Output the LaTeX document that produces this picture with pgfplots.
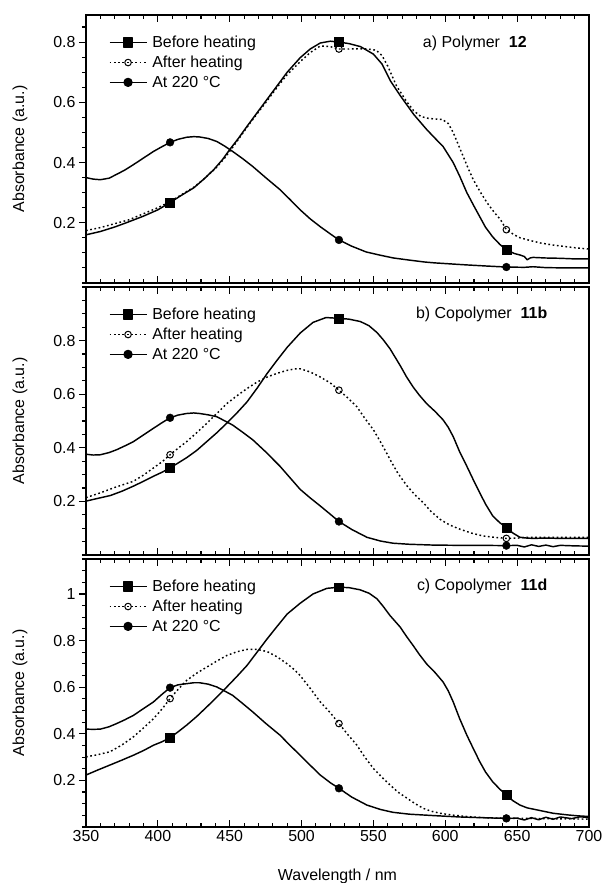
\documentclass[border=0pt]{standalone}
\usepackage{fontspec}
\setmainfont{Liberation Sans}
\usepackage{pgfplots}
\pgfplotsset{compat=1.18}
\pgfplotsset{
  panel/.style={
    scale only axis, width=503bp, height=268bp,
    xmin=350, xmax=700, ymin=0,
    xtick={350,400,...,700}, minor x tick num=4,
    ytick={0.2,0.4,0.6,0.8}, minor ytick={0,0.05,...,1.15},
    ytick pos=left, xtick pos=both,
    xtick align=inside, ytick align=outside,
    major tick length=7bp, minor tick length=4bp,
    axis line style={line width=1.4bp},
    every tick/.style={black, line width=1.1bp},
    tick label style={font=\fontsize{16}{19}\selectfont},
    label style={font=\fontsize{16}{19}\selectfont},
    /pgf/number format/assume math mode=true,
    ylabel={Absorbance (a.u.)},
    ylabel style={at={(axis description cs:-0.1312,0.5)}, anchor=center},
    legend style={draw=none, fill=none, at={(rel axis cs:0.045,0.93)}, anchor=north west,
      font=\fontsize{16}{19}\selectfont, row sep=3bp, inner sep=0pt, nodes={inner sep=2bp},
      /tikz/every odd column/.append style={column sep=3bp}},
    legend cell align=left,
    legend image code/.code={\draw[mark repeat=2,mark phase=2] plot coordinates {(0bp,0bp) (18.5bp,0bp) (37bp,0bp)};},
  },
  before/.style={black, line width=1.45bp, solid, line join=round},
  after/.style={black, line width=1.45bp, dash pattern=on 1.7bp off 2.6bp, line join=round},
  hot/.style={black, line width=1.45bp, solid, line join=round},
  bmark/.style={mark=square*, mark size=4.4bp, mark options={solid, fill=black, draw=black}},
  amark/.style={mark=o, mark size=3.3bp, mark options={solid, fill=white, draw=black, line width=1bp}},
  hmark/.style={mark=*, mark size=3.9bp, mark options={solid, fill=black, draw=black}},
}
\begin{document}
\begin{tikzpicture}
\useasboundingbox (-86bp,-56bp) rectangle (518bp,827bp);
% ---------------- panel a ----------------
\begin{axis}[panel, at={(0bp,544bp)}, anchor=south west, ymax=0.89, xticklabels=\empty]
\addlegendimage{before, bmark}\addlegendentry{Before heating}
\addlegendimage{after, amark}\addlegendentry{After heating}
\addlegendimage{hot, hmark}\addlegendentry{At 220 °C}
\addplot[before, forget plot] coordinates {(350,0.160) (360,0.171) (370,0.186) (378,0.200) (390,0.222) (400,0.243) (408.5,0.267) (416,0.290) (425,0.316) (432,0.345) (439,0.377) (445,0.41) (450,0.443) (456,0.48) (462,0.520) (469,0.565) (476,0.610) (483,0.655) (490,0.700) (499,0.748) (506,0.777) (513,0.797) (520,0.803) (526,0.800) (533,0.795) (541,0.785) (550,0.760) (556,0.727) (562,0.670) (569,0.620) (578,0.560) (587,0.510) (593,0.480) (598.5,0.453) (605.5,0.400) (610,0.355) (615,0.300) (620,0.255) (624,0.220) (628,0.185) (633,0.153) (638,0.128) (642.5,0.110) (648,0.098) (652,0.093) (655,0.088) (657,0.077) (659,0.083) (661,0.085) (670,0.083) (680,0.082) (690,0.080) (700,0.080)};
\addplot[after, forget plot] coordinates {(350,0.174) (360,0.184) (370,0.197) (380,0.210) (390,0.230) (400,0.250) (408.5,0.270) (416,0.292) (425,0.318) (432,0.345) (440,0.380) (446,0.412) (452,0.450) (458,0.490) (464,0.530) (470,0.568) (476,0.605) (483,0.650) (490,0.692) (499,0.735) (506,0.765) (513,0.787) (520,0.785) (526,0.777) (533,0.777) (540,0.778) (546,0.777) (552,0.773) (556,0.755) (560,0.720) (566,0.655) (573,0.603) (578,0.572) (583,0.553) (588,0.547) (592,0.545) (598,0.543) (602,0.530) (605.5,0.500) (609,0.460) (612.5,0.420) (616,0.380) (619.5,0.343) (624,0.305) (629,0.267) (634,0.235) (638.5,0.210) (642.5,0.177) (648,0.160) (652,0.150) (660,0.140) (666,0.133) (675,0.126) (685,0.120) (692,0.116) (700,0.113)};
\addplot[hot, forget plot] coordinates {(350,0.350) (355,0.345) (360,0.343) (366,0.348) (371,0.360) (377,0.375) (383,0.393) (390,0.415) (397,0.437) (403,0.453) (408.5,0.467) (414,0.477) (420,0.484) (425,0.486) (429,0.485) (435,0.480) (441,0.470) (446,0.456) (452,0.437) (459,0.413) (466,0.387) (475,0.350) (485,0.310) (492,0.277) (499,0.243) (506,0.213) (513,0.187) (520,0.163) (526,0.143) (535,0.122) (545,0.103) (555,0.092) (564,0.083) (575,0.076) (585,0.070) (592,0.067) (605,0.063) (615,0.060) (630,0.056) (642.5,0.053) (655,0.052) (661,0.054) (670,0.051) (685,0.050) (700,0.050)};
\addplot[only marks, bmark, forget plot] coordinates {(408.5,0.267) (526,0.800) (642.5,0.110)};
\addplot[only marks, amark, forget plot] coordinates {(408.5,0.268) (526,0.777) (642.5,0.177)};
\addplot[only marks, hmark, forget plot] coordinates {(408.5,0.467) (526,0.143) (642.5,0.053)};
\node[anchor=east, font=\fontsize{16}{19}\selectfont] at (rel axis cs:0.883,0.895) {a) Polymer\ \ \textbf{12}};
\end{axis}
% ---------------- panel b ----------------
\begin{axis}[panel, at={(0bp,272bp)}, anchor=south west, ymax=1.0, xticklabels=\empty]
\addlegendimage{before, bmark}\addlegendentry{Before heating}
\addlegendimage{after, amark}\addlegendentry{After heating}
\addlegendimage{hot, hmark}\addlegendentry{At 220 °C}
\addplot[before, forget plot] coordinates {(350,0.201) (358,0.211) (367,0.222) (375,0.238) (383,0.257) (390,0.275) (397,0.294) (403,0.309) (408.5,0.325) (414,0.343) (420,0.363) (427,0.390) (434,0.423) (441,0.456) (448,0.492) (455,0.530) (462,0.571) (469,0.622) (476,0.677) (483,0.727) (490,0.775) (499,0.828) (508,0.868) (517,0.886) (526,0.883) (533,0.880) (541,0.871) (547,0.855) (552.5,0.830) (557,0.802) (561.6,0.769) (568.6,0.707) (573,0.665) (577.6,0.627) (582,0.596) (587,0.565) (593,0.535) (598.5,0.504) (602,0.477) (605.5,0.442) (610,0.385) (615,0.331) (620,0.275) (624,0.232) (628,0.190) (633,0.146) (638,0.120) (642.5,0.103) (647,0.082) (652,0.066) (657,0.063) (661,0.062) (670,0.063) (680,0.062) (690,0.062) (700,0.062)};
\addplot[after, forget plot] coordinates {(350,0.214) (360,0.232) (370,0.252) (383,0.275) (390,0.298) (397,0.325) (403,0.348) (408.5,0.374) (414,0.398) (420,0.423) (427,0.456) (434,0.491) (441,0.528) (448,0.565) (455,0.594) (462,0.621) (469,0.645) (476,0.664) (483,0.678) (490,0.689) (495,0.694) (499,0.695) (506,0.683) (513,0.664) (520,0.642) (526,0.615) (532,0.587) (538.5,0.553) (544,0.510) (550,0.467) (556,0.412) (561.6,0.356) (567,0.305) (573.5,0.257) (579,0.224) (584.7,0.195) (590,0.163) (596.4,0.133) (603,0.112) (610.3,0.096) (618,0.082) (626.3,0.071) (634,0.066) (642.5,0.062) (650,0.063) (657,0.066) (670,0.066) (685,0.066) (700,0.066)};
\addplot[hot, forget plot] coordinates {(350,0.376) (355,0.373) (360,0.374) (366,0.382) (371.4,0.393) (377,0.407) (383,0.423) (390,0.448) (397,0.473) (403,0.494) (408.5,0.512) (414,0.522) (420,0.528) (425,0.530) (429,0.528) (435,0.523) (441,0.516) (446,0.502) (452,0.485) (459,0.458) (466,0.430) (475,0.385) (485,0.331) (492,0.288) (499,0.245) (506,0.213) (513,0.183) (520,0.152) (526,0.125) (535,0.095) (545.5,0.066) (555,0.052) (563.6,0.044) (575,0.040) (591.7,0.037) (610,0.036) (625,0.036) (642.5,0.035) (650,0.036) (655,0.030) (660,0.038) (665,0.032) (670,0.037) (675,0.031) (680,0.036) (690,0.034) (700,0.033)};
\addplot[only marks, amark, forget plot] coordinates {(408.5,0.374) (526,0.615) (642.5,0.062)};
\addplot[only marks, bmark, forget plot] coordinates {(408.5,0.325) (526,0.883) (642.5,0.103)};
\addplot[only marks, hmark, forget plot] coordinates {(408.5,0.512) (526,0.125) (642.5,0.035)};
\node[anchor=east, font=\fontsize{16}{19}\selectfont] at (rel axis cs:0.924,0.896) {b) Copolymer\ \ \textbf{11b}};
\end{axis}
% ---------------- panel c ----------------
\begin{axis}[panel, at={(0bp,0bp)}, anchor=south west, ymax=1.15,
  ytick={0.2,0.4,0.6,0.8,1}, xlabel={Wavelength / nm},
  xlabel style={at={(axis description cs:0.5,0)}, yshift=-49bp, anchor=center}]
\addlegendimage{before, bmark}\addlegendentry{Before heating}
\addlegendimage{after, amark}\addlegendentry{After heating}
\addlegendimage{hot, hmark}\addlegendentry{At 220 °C}
\addplot[before, forget plot] coordinates {(350,0.223) (358,0.244) (366.7,0.266) (375,0.287) (383,0.308) (390,0.328) (397,0.351) (403,0.366) (408.5,0.383) (414,0.408) (420,0.437) (427,0.474) (434,0.515) (441,0.557) (448,0.601) (455,0.646) (462,0.693) (469,0.750) (476,0.807) (483,0.861) (490,0.914) (499,0.960) (508,1.000) (517.6,1.024) (526,1.029) (533,1.027) (540.6,1.018) (547,1.003) (552.5,0.979) (557,0.945) (561.6,0.907) (568.6,0.858) (573,0.818) (577.6,0.779) (582,0.740) (587,0.700) (593,0.662) (598.5,0.622) (602,0.585) (605.5,0.537) (610,0.465) (615,0.394) (620,0.330) (624,0.280) (628,0.236) (633,0.194) (638,0.162) (642.5,0.137) (647,0.113) (652,0.094) (657,0.082) (661,0.077) (668,0.068) (675,0.059) (685,0.052) (692,0.048) (700,0.045)};
\addplot[after, forget plot] coordinates {(350,0.301) (358,0.310) (366.7,0.323) (375,0.352) (383,0.387) (390,0.425) (397,0.465) (403,0.507) (408.5,0.551) (414,0.590) (420,0.629) (427,0.660) (434,0.686) (441,0.712) (448,0.736) (455,0.752) (462,0.762) (469,0.762) (476,0.753) (483,0.730) (490,0.700) (495,0.675) (499,0.650) (506,0.595) (513,0.537) (520,0.490) (526,0.444) (532,0.398) (538.5,0.351) (544,0.300) (550,0.251) (556,0.213) (561.6,0.180) (567,0.150) (573.5,0.123) (579,0.100) (584.7,0.080) (590,0.068) (596.4,0.059) (605,0.051) (615,0.045) (628,0.040) (642.5,0.037) (661,0.037) (680,0.035) (700,0.034)};
\addplot[hot, forget plot] coordinates {(350,0.420) (355,0.419) (360,0.420) (366,0.430) (371.4,0.444) (377,0.460) (383,0.479) (390,0.508) (397,0.537) (403,0.570) (408.5,0.598) (414,0.610) (420,0.615) (425,0.619) (429,0.619) (435,0.613) (441,0.601) (446,0.585) (452,0.565) (459,0.530) (466,0.494) (475,0.445) (485,0.394) (492,0.350) (499,0.308) (506,0.265) (513,0.223) (520,0.190) (526,0.166) (535,0.128) (545.5,0.094) (555,0.075) (563.6,0.063) (575,0.055) (591.7,0.049) (610,0.043) (625,0.040) (642.5,0.037) (650,0.038) (655,0.030) (660,0.040) (665,0.031) (670,0.042) (675,0.033) (680,0.043) (688,0.036) (694,0.044) (700,0.040)};
\addplot[only marks, amark, forget plot] coordinates {(408.5,0.551) (526,0.444) (642.5,0.037)};
\addplot[only marks, bmark, forget plot] coordinates {(408.5,0.383) (526,1.029) (642.5,0.137)};
\addplot[only marks, hmark, forget plot] coordinates {(408.5,0.598) (526,0.166) (642.5,0.037)};
\node[anchor=east, font=\fontsize{16}{19}\selectfont] at (rel axis cs:0.924,0.896) {c) Copolymer\ \ \textbf{11d}};
\end{axis}
\end{tikzpicture}
\end{document}
